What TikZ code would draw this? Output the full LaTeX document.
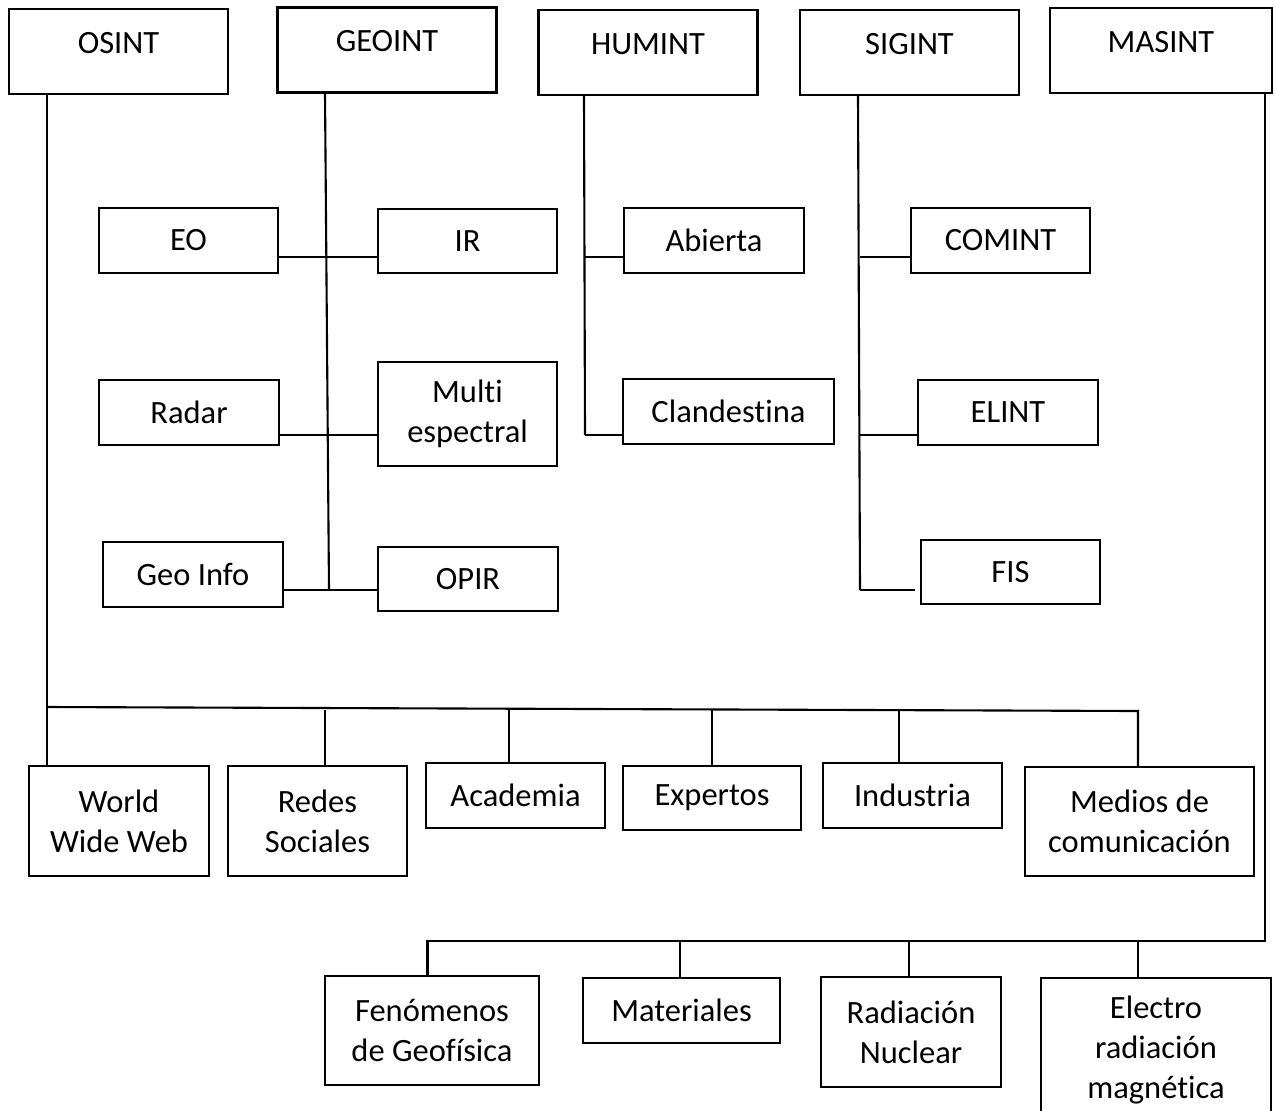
\documentclass[tikz,border=0pt]{standalone}
\usepackage{fontspec}
\setmainfont[RawFeature={-liga;-clig;-calt;-dlig;-rlig}]{Carlito}

\def\px{0.02cm}

\tikzset{
  box/.style={draw, line width=1.2pt, align=center, inner sep=0pt},
  bx/.style 2 args={box, minimum width=#1*\px, minimum height=#2*\px},
  head/.style={box, minimum width=219*\px, text height=0.88cm, text depth=0.82cm},
  conn/.style={line width=1.2pt},
}

\begin{document}
\begin{tikzpicture}[x=\px, y=-\px,
    every node/.style={font=\fontsize{18.5}{22.7}\selectfont}]
    \useasboundingbox (0,0) rectangle (1275,1110);
    \clip (0,0) rectangle (1275,1110);

    % disciplines
    \node[head] (osint) at (118.5,51.5) {OSINT};
    \node[head] (geoint) at (387,50) {GEOINT};
    \node[head] (humint) at (648,52.5) {HUMINT};
    \node[head] (sigint) at (909.5,52.5) {SIGINT};
    \node[head, minimum width=222*\px] (masint) at (1161,50.5) {MASINT};

    % GEOINT
    \node[bx={179}{65}] (eo) at (188.5,240.5) {EO};
    \node[bx={179}{64}] (ir) at (467.5,241) {IR};
    \node[bx={180}{65}] (radar) at (189,412.5) {Radar};
    \node[bx={179}{104}] (multi) at (467.5,414) {Multi\\espectral};
    \node[bx={180}{65}] (geoinfo) at (193,574.5) {Geo Info};
    \node[bx={180}{64}] (opir) at (468,579) {OPIR};

    % HUMINT
    \node[bx={180}{65}] (abierta) at (714,240.5) {Abierta};
    \node[bx={211}{65}] (clandestina) at (728.5,411.5) {Clandestina};

    % SIGINT
    \node[bx={179}{65}] (comint) at (1000.5,240.5) {COMINT};
    \node[bx={180}{65}] (elint) at (1008,412.5) {ELINT};
    \node[bx={179}{64}] (fis) at (1010.5,572) {FIS};

    % OSINT sources
    \node[bx={180}{110}] (www) at (119,821) {World\\Wide Web};
    \node[bx={179}{110}] (redes) at (317.5,821) {Redes\\Sociales};
    \node[bx={179}{65}] (academia) at (515.5,795.5) {Academia};
    \node[bx={178}{64}] (expertos) at (712,798) {Expertos};
    \node[bx={179}{65}] (industria) at (912.5,795.5) {Industria};
    \node[bx={229}{109}] (medios) at (1139.5,821.5) {Medios de\\comunicación};

    % MASINT
    \node[bx={214}{109}] (fenomenos) at (432,1030.5) {Fenómenos\\de Geofísica};
    \node[bx={197}{65}] (materiales) at (681.5,1010.5) {Materiales};
    \node[bx={180}{110}] (radiacion) at (911,1032) {Radiación\\Nuclear};
    \node[bx={230}{144}] (electro) at (1156,1050) {Electro\\radiación\\magnética};

    % Next, the trunks and their branches
    \coordinate (osbus) at (47,707);
    \coordinate (osend) at (1138,711);
    \draw[conn] (osint.south -| osbus) -- (www.north -| osbus);
    \draw[conn] (osbus) -- (osend) -- (medios.north -| osend);
    \foreach \x/\n in {325/redes, 509/academia, 712/expertos, 899/industria} {
      \coordinate (d) at (\x,710);
      \draw[conn] (d) -- (d |- \n.north);
    }

    \coordinate (getop) at (325,0);
    \coordinate (geend) at (329,590);
    \draw[conn] (geoint.south -| getop) -- (geend);
    \foreach \y/\a/\b in {257/eo/ir, 435/radar/multi, 590/geoinfo/opir} {
      \coordinate (l) at (0,\y);
      \draw[conn] (\a.east |- l) -- (\b.west |- l);
    }

    \coordinate (hutop) at (584,0);
    \coordinate (huend) at (585,435);
    \draw[conn] (humint.south -| hutop) -- (huend);
    \foreach \y/\b in {257/abierta, 435/clandestina} {
      \coordinate (l) at (585,\y);
      \draw[conn] (l) -- (\b.west |- l);
    }

    \coordinate (sitop) at (858,0);
    \coordinate (siend) at (860,590);
    \draw[conn] (sigint.south -| sitop) -- (siend);
    \foreach \y/\b in {257/comint, 435/elint} {
      \coordinate (l) at (860,\y);
      \draw[conn] (l) -- (\b.west |- l);
    }
    \draw[conn, shorten >=0.1cm] (siend) -- (fis.west |- siend);

    \coordinate (mabus) at (1265,941);
    \coordinate (maend) at (427.5,941);
    \draw[conn] (masint.south -| mabus) -- (mabus) -- (maend) -- (maend |- fenomenos.north);
    \foreach \x/\n in {680/materiales, 909/radiacion, 1138/electro} {
      \coordinate (d) at (\x,941);
      \draw[conn] (d) -- (d |- \n.north);
    }
\end{tikzpicture}
\end{document}
